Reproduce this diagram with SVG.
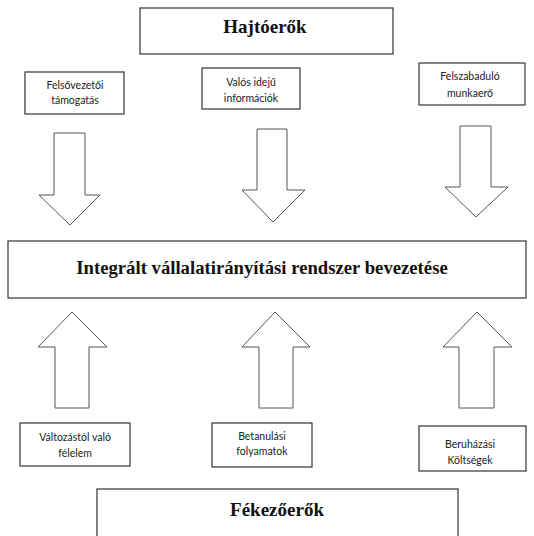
<svg xmlns="http://www.w3.org/2000/svg" width="534" height="536" viewBox="0 0 534 536">
<style>
.box{fill:#fff;stroke:#333;stroke-width:1.2}
.arr{fill:#fff;stroke:#555;stroke-width:1}
.t{font-family:"Liberation Serif",serif;font-weight:bold;fill:#111;text-anchor:middle}
.s{font-family:Lato,"Liberation Sans",sans-serif;font-size:10.5px;fill:#222;text-anchor:middle}
</style>
<rect width="534" height="536" fill="#fff"/>
<g id="hajtoerok"><rect class="box" x="140" y="8" width="253" height="46"/><text class="t" x="265" y="33" font-size="19">Hajtóerők</text></g>
<g id="felsovezetoi"><rect class="box" x="25" y="72" width="99" height="42"/><text class="s" x="75" y="89">Felsővezetői</text><text class="s" x="75" y="104">támogatás</text></g>
<g id="valos"><rect class="box" x="202" y="68" width="98" height="41"/><text class="s" x="251" y="86">Valós idejű</text><text class="s" x="251" y="102">információk</text></g>
<g id="felszabadulo"><rect class="box" x="419" y="63" width="106" height="42"/><text class="s" x="470" y="80">Felszabaduló</text><text class="s" x="470" y="97">munkaerő</text></g>
<g id="integralt"><rect class="box" x="8" y="241" width="518" height="57"/><text class="t" x="262" y="274" font-size="18.7">Integrált vállalatirányítási rendszer bevezetése</text></g>
<g id="valtozastol"><rect class="box" x="20" y="423" width="110" height="43"/><text class="s" x="75" y="441">Változástól való</text><text class="s" x="75" y="457">félelem</text></g>
<g id="betanulasi"><rect class="box" x="212" y="423" width="100" height="44"/><text class="s" x="262" y="440">Betanulási</text><text class="s" x="262" y="455">folyamatok</text></g>
<g id="beruhazasi"><rect class="box" x="419" y="426" width="107" height="45"/><text class="s" x="470" y="448">Beruházási</text><text class="s" x="470" y="464">Költségek</text></g>
<g id="fekezoerok"><rect class="box" x="97" y="489" width="361" height="60"/><text class="t" x="277" y="516" font-size="19">Fékezőerők</text></g>
<g id="connectors">
<polygon class="arr" points="54,133 85,133 85,195 100,195 70,225 39,195 54,195"/>
<polygon class="arr" points="257,129 287,129 287,190 305,190 273,222 242,190 257,190"/>
<polygon class="arr" points="460,126 491,126 491,187 508,187 476,217 445,187 460,187"/>
<polygon class="arr" points="72,312 107,347 89,347 89,408 55,408 55,347 38,347"/>
<polygon class="arr" points="275,312 310,347 293,347 293,408 259,408 259,347 242,347"/>
<polygon class="arr" points="477,312 512,347 494,347 494,408 459,408 459,347 443,347"/>
</g>
</svg>
